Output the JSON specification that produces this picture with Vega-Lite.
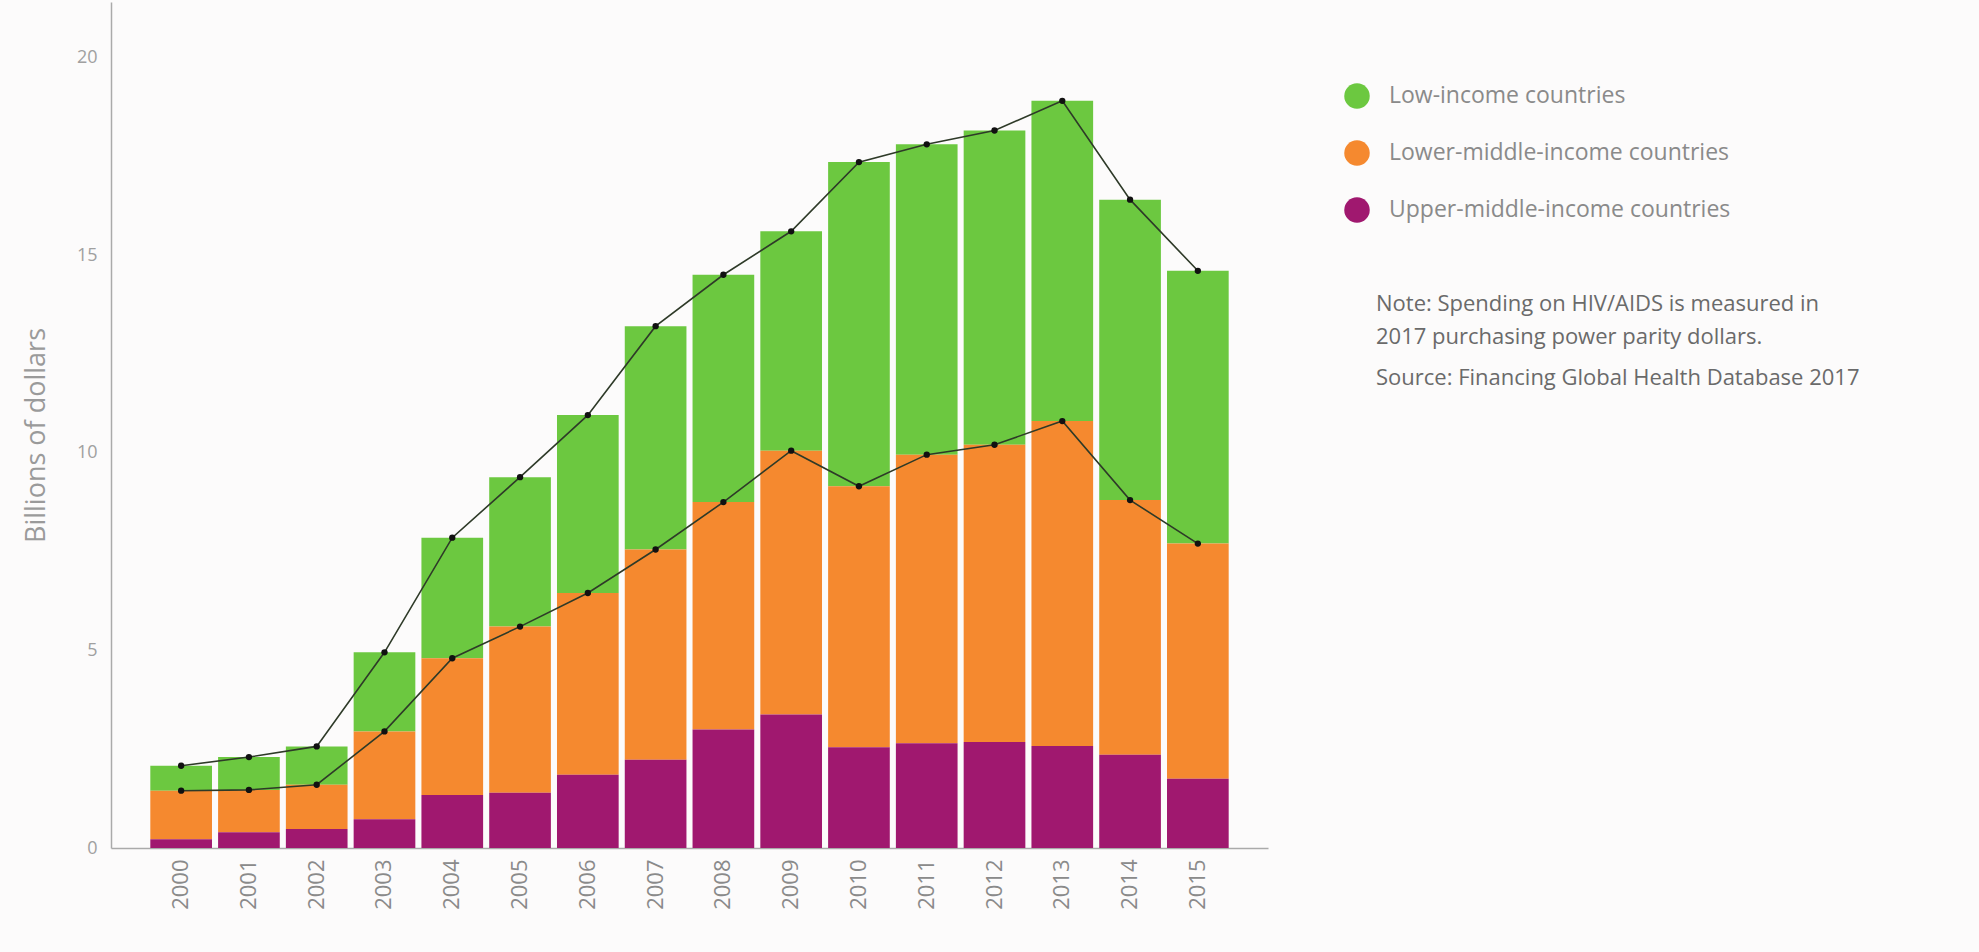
{
  "$schema": "https://vega.github.io/schema/vega-lite/v6.json",
  "autosize": {"type": "none"},
  "width": 1157,
  "height": 846,
  "padding": {"left": 111, "top": 2, "right": 711, "bottom": 104},
  "background": "#fcfbfb",
  "config": {
    "view": {"stroke": null},
    "font": "Open Sans"
  },
  "title": {
    "text": ["Note: Spending on HIV/AIDS is measured in", "2017 purchasing power parity dollars."],
    "subtitle": "Source: Financing Global Health Database 2017",
    "orient": "top",
    "anchor": "start",
    "frame": "group",
    "dx": 1265,
    "dy": 392,
    "fontSize": 22,
    "fontWeight": "normal",
    "color": "#6a6a6a",
    "lineHeight": 33,
    "subtitleFontSize": 22,
    "subtitleColor": "#6a6a6a",
    "subtitlePadding": 19
  },
  "data": {
    "values": [
      {"year": "2000", "group": "Low-income countries", "rank": 3, "value": 0.63},
      {"year": "2000", "group": "Lower-middle-income countries", "rank": 2, "value": 1.23},
      {"year": "2000", "group": "Upper-middle-income countries", "rank": 1, "value": 0.22},
      {"year": "2001", "group": "Low-income countries", "rank": 3, "value": 0.83},
      {"year": "2001", "group": "Lower-middle-income countries", "rank": 2, "value": 1.07},
      {"year": "2001", "group": "Upper-middle-income countries", "rank": 1, "value": 0.40},
      {"year": "2002", "group": "Low-income countries", "rank": 3, "value": 0.97},
      {"year": "2002", "group": "Lower-middle-income countries", "rank": 2, "value": 1.12},
      {"year": "2002", "group": "Upper-middle-income countries", "rank": 1, "value": 0.48},
      {"year": "2003", "group": "Low-income countries", "rank": 3, "value": 2.0},
      {"year": "2003", "group": "Lower-middle-income countries", "rank": 2, "value": 2.22},
      {"year": "2003", "group": "Upper-middle-income countries", "rank": 1, "value": 0.73},
      {"year": "2004", "group": "Low-income countries", "rank": 3, "value": 3.05},
      {"year": "2004", "group": "Lower-middle-income countries", "rank": 2, "value": 3.46},
      {"year": "2004", "group": "Upper-middle-income countries", "rank": 1, "value": 1.34},
      {"year": "2005", "group": "Low-income countries", "rank": 3, "value": 3.78},
      {"year": "2005", "group": "Lower-middle-income countries", "rank": 2, "value": 4.2},
      {"year": "2005", "group": "Upper-middle-income countries", "rank": 1, "value": 1.4},
      {"year": "2006", "group": "Low-income countries", "rank": 3, "value": 4.5},
      {"year": "2006", "group": "Lower-middle-income countries", "rank": 2, "value": 4.6},
      {"year": "2006", "group": "Upper-middle-income countries", "rank": 1, "value": 1.85},
      {"year": "2007", "group": "Low-income countries", "rank": 3, "value": 5.65},
      {"year": "2007", "group": "Lower-middle-income countries", "rank": 2, "value": 5.32},
      {"year": "2007", "group": "Upper-middle-income countries", "rank": 1, "value": 2.23},
      {"year": "2008", "group": "Low-income countries", "rank": 3, "value": 5.75},
      {"year": "2008", "group": "Lower-middle-income countries", "rank": 2, "value": 5.75},
      {"year": "2008", "group": "Upper-middle-income countries", "rank": 1, "value": 3.0},
      {"year": "2009", "group": "Low-income countries", "rank": 3, "value": 5.55},
      {"year": "2009", "group": "Lower-middle-income countries", "rank": 2, "value": 6.67},
      {"year": "2009", "group": "Upper-middle-income countries", "rank": 1, "value": 3.38},
      {"year": "2010", "group": "Low-income countries", "rank": 3, "value": 8.2},
      {"year": "2010", "group": "Lower-middle-income countries", "rank": 2, "value": 6.6},
      {"year": "2010", "group": "Upper-middle-income countries", "rank": 1, "value": 2.55},
      {"year": "2011", "group": "Low-income countries", "rank": 3, "value": 7.85},
      {"year": "2011", "group": "Lower-middle-income countries", "rank": 2, "value": 7.3},
      {"year": "2011", "group": "Upper-middle-income countries", "rank": 1, "value": 2.65},
      {"year": "2012", "group": "Low-income countries", "rank": 3, "value": 7.95},
      {"year": "2012", "group": "Lower-middle-income countries", "rank": 2, "value": 7.52},
      {"year": "2012", "group": "Upper-middle-income countries", "rank": 1, "value": 2.68},
      {"year": "2013", "group": "Low-income countries", "rank": 3, "value": 8.1},
      {"year": "2013", "group": "Lower-middle-income countries", "rank": 2, "value": 8.22},
      {"year": "2013", "group": "Upper-middle-income countries", "rank": 1, "value": 2.58},
      {"year": "2014", "group": "Low-income countries", "rank": 3, "value": 7.6},
      {"year": "2014", "group": "Lower-middle-income countries", "rank": 2, "value": 6.44},
      {"year": "2014", "group": "Upper-middle-income countries", "rank": 1, "value": 2.36},
      {"year": "2015", "group": "Low-income countries", "rank": 3, "value": 6.9},
      {"year": "2015", "group": "Lower-middle-income countries", "rank": 2, "value": 5.95},
      {"year": "2015", "group": "Upper-middle-income countries", "rank": 1, "value": 1.75}
    ]
  },
  "transform": [
    {"stack": "value", "groupby": ["year"], "sort": [{"field": "rank", "order": "ascending"}], "as": ["y0", "y1"]}
  ],
  "encoding": {
    "x": {
      "field": "year", "type": "ordinal",
      "scale": {"paddingInner": 0.09, "paddingOuter": 0.58},
      "axis": {
        "title": null, "labelAngle": -90, "labelAlign": "right", "labelBaseline": "middle",
        "labelFontSize": 22, "labelColor": "#8a8a8a", "labelPadding": 11,
        "ticks": false, "domainColor": "#aaaaaa", "domainWidth": 1.5
      }
    }
  },
  "layer": [
    {
      "mark": {"type": "bar"},
      "encoding": {
        "y": {
          "field": "y1", "type": "quantitative",
          "scale": {"domain": [0, 21.4], "nice": false},
          "axis": {
            "title": "Billions of dollars", "values": [0, 5, 10, 15, 20],
            "titleFontSize": 27, "titleColor": "#9a9a9a", "titleFontWeight": "normal", "titlePadding": 26,
            "titleY": 433,
            "labelFontSize": 18, "labelColor": "#a0a0a0", "labelPadding": 14,
            "ticks": false, "grid": false, "domainColor": "#aaaaaa", "domainWidth": 1.5
          }
        },
        "y2": {"field": "y0"},
        "color": {
          "field": "group", "type": "nominal",
          "scale": {
            "domain": ["Low-income countries", "Lower-middle-income countries", "Upper-middle-income countries"],
            "range": ["#6cc840", "#f5892f", "#a0186f"]
          },
          "legend": {
            "title": null, "orient": "none", "legendX": 1233, "legendY": 81,
            "symbolType": "circle", "symbolSize": 650, "symbolStrokeWidth": 0,
            "labelFontSize": 23, "labelColor": "#8a8a8a", "labelOffset": 19, "labelLimit": 0,
            "rowPadding": 31, "padding": 0
          }
        }
      }
    },
    {
      "transform": [{"filter": "datum.rank > 1"}],
      "mark": {"type": "line", "color": "#2e3a28", "strokeWidth": 1.6},
      "encoding": {
        "y": {"field": "y1", "type": "quantitative"},
        "detail": {"field": "group"}
      }
    },
    {
      "transform": [{"filter": "datum.rank > 1"}],
      "mark": {"type": "point", "filled": true, "color": "#111111", "size": 40, "opacity": 1},
      "encoding": {
        "y": {"field": "y1", "type": "quantitative"}
      }
    }
  ]
}
